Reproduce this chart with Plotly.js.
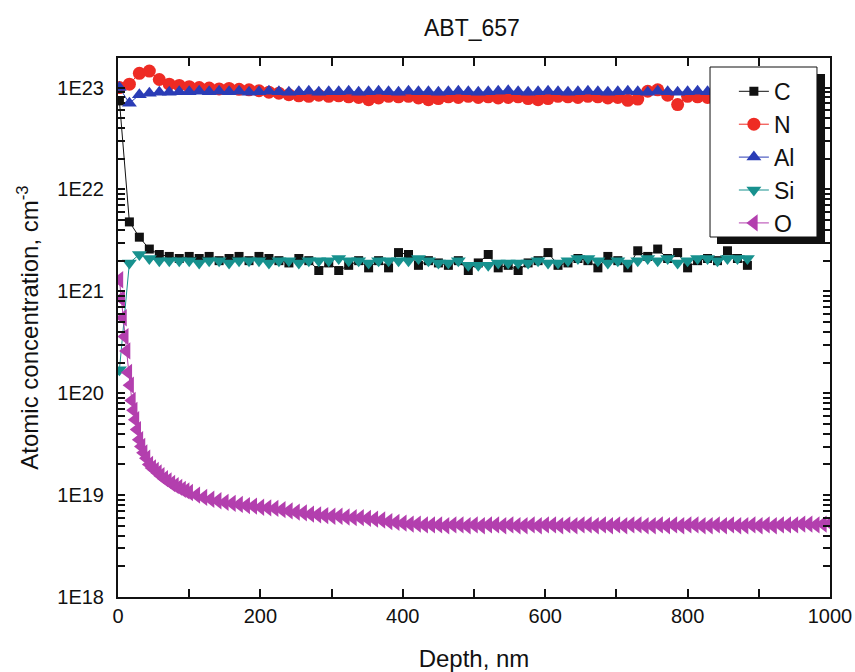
<!DOCTYPE html>
<html>
<head>
<meta charset="utf-8">
<script src="https://cdn.plot.ly/plotly-3.0.1.min.js"></script>
<style>html,body{margin:0;padding:0;background:#fff;}#chart{width:855px;height:672px;}</style>
</head>
<body>
<div id="chart"></div>
<script>
// Depth (nm) shared by C, N, Al, Si
const depth = [2,16,30,44,58,72,86,100,114,128,142,156,170,184,198,212,226,240,254,268,282,296,310,324,338,352,366,380,394,408,422,436,450,464,478,492,506,520,534,548,562,576,590,604,618,632,646,660,674,688,702,716,730,744,758,772,786,800,814,828,842,856,870,884];

const C = [7.4e22,4.8e21,3.4e21,2.6e21,2.3e21,2.2e21,2.1e21,2.2e21,2.1e21,2.2e21,2.0e21,2.1e21,2.2e21,2.0e21,2.2e21,2.1e21,2.0e21,1.9e21,2.1e21,2.0e21,1.6e21,1.9e21,1.6e21,1.8e21,2.0e21,1.7e21,2.0e21,1.7e21,2.4e21,2.3e21,1.8e21,2.0e21,1.9e21,1.8e21,2.0e21,1.6e21,1.9e21,2.3e21,1.7e21,1.8e21,1.6e21,1.9e21,2.0e21,2.4e21,1.8e21,1.9e21,2.1e21,2.0e21,1.7e21,2.2e21,2.0e21,1.7e21,2.5e21,2.2e21,2.6e21,2.1e21,2.4e21,1.7e21,2.0e21,2.1e21,2.0e21,2.5e21,2.1e21,1.8e21];

const N = [1.0e23,1.08e23,1.38e23,1.45e23,1.2e23,1.08e23,1.05e23,1.02e23,1.0e23,9.9e22,9.7e22,9.8e22,9.6e22,9.5e22,9.3e22,9.0e22,8.8e22,8.5e22,8.3e22,8.2e22,8.4e22,8.2e22,8.3e22,8.1e22,8.0e22,7.6e22,7.9e22,8.2e22,8.1e22,8.2e22,7.9e22,7.6e22,7.8e22,8.1e22,8.0e22,8.2e22,8.0e22,8.1e22,7.9e22,8.0e22,8.1e22,7.8e22,7.6e22,7.8e22,8.2e22,8.1e22,8.0e22,8.2e22,8.1e22,7.9e22,8.0e22,7.5e22,7.7e22,9.2e22,9.5e22,8.4e22,6.8e22,8.2e22,8.1e22,8.0e22,8.1e22,8.0e22,8.2e22,8.0e22];

const Al = [1.0e23,7.0e22,8.5e22,8.8e22,9.0e22,9.0e22,9.1e22,9.1e22,9.2e22,9.1e22,9.2e22,9.1e22,9.2e22,9.0e22,9.1e22,9.2e22,9.1e22,9.0e22,9.1e22,9.2e22,9.0e22,9.1e22,9.1e22,9.2e22,9.0e22,9.1e22,9.2e22,9.1e22,9.0e22,9.2e22,9.1e22,9.1e22,9.0e22,9.1e22,9.2e22,9.1e22,9.0e22,9.1e22,9.2e22,9.3e22,9.1e22,9.0e22,9.1e22,9.2e22,9.1e22,9.0e22,9.1e22,9.2e22,9.1e22,9.0e22,9.1e22,9.2e22,9.1e22,9.0e22,9.2e22,9.1e22,9.0e22,9.1e22,9.2e22,9.1e22,9.0e22,9.1e22,9.1e22,9.0e22];

const Si = [1.7e20,1.9e21,2.3e21,2.1e21,2.0e21,2.0e21,2.0e21,2.0e21,1.9e21,2.0e21,2.0e21,1.9e21,2.0e21,2.0e21,2.0e21,1.9e21,2.0e21,2.0e21,1.9e21,2.0e21,2.0e21,2.0e21,2.1e21,2.0e21,2.0e21,1.9e21,2.0e21,2.0e21,2.0e21,2.0e21,2.1e21,2.0e21,1.9e21,1.9e21,2.0e21,1.8e21,1.8e21,1.8e21,1.9e21,1.9e21,1.9e21,1.9e21,2.0e21,1.9e21,1.9e21,2.0e21,2.1e21,2.1e21,2.0e21,1.9e21,2.0e21,1.9e21,2.0e21,2.1e21,2.0e21,2.1e21,1.9e21,2.0e21,2.1e21,2.1e21,2.0e21,2.1e21,2.1e21,2.1e21];

// Oxygen has its own (denser) depth grid
const depthO = [2,4.5,7,9.5,12,14.5,17,19.5,22,24.5,27,30,33,36,40,44,48,52,56,60,65,70,75,80,85,90,95,100,
110,120,130,140,150,160,170,180,190,200,210,220,230,240,250,260,270,280,290,300,310,320,330,340,350,360,370,380,390,400,410,420,430,440,
450,460,470,480,490,500,510,520,530,540,550,560,570,580,590,600,610,620,630,640,650,660,670,680,690,700,710,720,730,740,
750,760,770,780,790,800,810,820,830,840,850,860,870,880,890,900,910,920,930,940,950,960,970,980,990,1000];

const O = [1.3e21,8.5e20,5.5e20,3.6e20,2.6e20,1.6e20,1.2e20,8.5e19,6.8e19,5.5e19,4.4e19,3.5e19,3.0e19,2.6e19,2.3e19,2.0e19,1.85e19,1.75e19,1.65e19,1.55e19,1.45e19,1.38e19,1.3e19,1.24e19,1.19e19,1.14e19,1.1e19,1.06e19,
1.0e19,9.5e18,9.1e18,8.8e18,8.5e18,8.3e18,8.1e18,7.9e18,7.8e18,7.6e18,7.5e18,7.4e18,7.2e18,7.0e18,6.8e18,6.7e18,6.5e18,6.4e18,6.3e18,6.2e18,6.2e18,6.1e18,6.0e18,6.0e18,5.9e18,5.8e18,5.7e18,5.5e18,5.4e18,5.3e18,5.2e18,5.2e18,5.1e18,5.1e18,
5.1e18,5.0e18,5.1e18,5.1e18,5.0e18,5.1e18,5.0e18,5.1e18,5.1e18,5.0e18,5.1e18,5.0e18,5.0e18,5.1e18,5.0e18,5.1e18,5.1e18,5.0e18,5.1e18,5.0e18,5.1e18,5.1e18,5.0e18,5.1e18,5.0e18,5.1e18,5.0e18,5.1e18,5.1e18,5.0e18,
5.0e18,5.1e18,5.0e18,5.1e18,5.0e18,5.1e18,5.1e18,5.0e18,5.0e18,5.1e18,5.0e18,5.1e18,5.0e18,5.0e18,5.1e18,5.0e18,5.1e18,5.0e18,5.1e18,5.1e18,5.1e18,5.2e18,5.2e18,5.1e18,5.2e18,5.3e18];

const names = ['C','N','Al','Si','O'];
const colors = ['#111111','#ee2b24','#2a3cb6','#17918e','#b33fae'];
const symbols = ['square','circle','triangle-up','triangle-down','triangle-left'];
const sizes = [9,13,13,13,15];

// x ticks every 100 nm, labels every 200 nm
const xTickVals = [0,100,200,300,400,500,600,700,800,900,1000];
const xTickText = ['0','','200','','400','','600','','800','','1000'];

// y ticks: every 1..9 x 10^n, labels on decades only
const yTickVals = [];
const yTickText = [];
for (let e = 18; e <= 23; e++) {
  for (let m = 1; m <= 9; m++) {
    const v = m * Math.pow(10, e);
    if (Math.log10(v) > 23.29) break;
    yTickVals.push(v);
    yTickText.push(m === 1 ? '1E' + e : '');
  }
}

const xs = [depth,depth,depth,depth,depthO];
const ys = [C,N,Al,Si,O];

const traces = names.map((n,i)=>({
  type:'scatter', mode:'lines+markers', name:n,
  x: xs[i], y: ys[i],
  line:{color:colors[i], width:1},
  marker:{symbol:symbols[i], size:sizes[i], color:colors[i], line:{width:0}}
}));

const font = {family:'"Liberation Sans", Arial, sans-serif', color:'#111'};

const layout = {
  width:855, height:672,
  margin:{l:118, r:25, t:58, b:75},
  paper_bgcolor:'#fff', plot_bgcolor:'#fff',
  font: Object.assign({size:20}, font),
  showlegend:true,
  title:{text:'ABT_657', font:Object.assign({size:23}, font), x:0.552, xref:'container', y:0.958, yanchor:'middle'},
  xaxis:{
    range:[0,1000], tickmode:'array', tickvals:xTickVals, ticktext:xTickText,
    ticks:'inside', ticklen:8, tickwidth:2, tickcolor:'#111',
    showline:true, linewidth:2, linecolor:'#111', mirror:'ticks',
    showgrid:false, zeroline:false,
    tickfont:Object.assign({size:20}, font),
    title:{text:'Depth, nm', font:Object.assign({size:24}, font), standoff:24}
  },
  yaxis:{
    type:'log', range:[18, 23.29], tickmode:'array', tickvals:yTickVals, ticktext:yTickText,
    ticks:'inside', ticklen:7, tickwidth:2, tickcolor:'#111',
    showline:true, linewidth:2, linecolor:'#111', mirror:'ticks',
    showgrid:false, zeroline:false,
    tickfont:Object.assign({size:20}, font),
    ticklabelstandoff:8,
    title:{text:'Atomic concentration, cm<sup>-3</sup>', font:Object.assign({size:24}, font), standoff:12}
  },
  legend:{
    x:0.865, y:0.978, xanchor:'left', yanchor:'top',
    bgcolor:'rgba(0,0,0,0)', borderwidth:0,
    font:Object.assign({size:23}, font),
    tracegroupgap:0
  },
  shapes:[
    {type:'rect', xref:'paper', yref:'paper', x0:0.8413, x1:0.9930, y0:0.6549, y1:0.9703, fillcolor:'#111', line:{width:0}, layer:'above'},
    {type:'rect', xref:'paper', yref:'paper', x0:0.8315, x1:0.9817, y0:0.6679, y1:0.9833, fillcolor:'#fff', line:{color:'#111', width:1}, layer:'above'}
  ]
};

Plotly.newPlot('chart', traces, layout, {displayModeBar:false, staticPlot:true});
</script>
</body>
</html>
